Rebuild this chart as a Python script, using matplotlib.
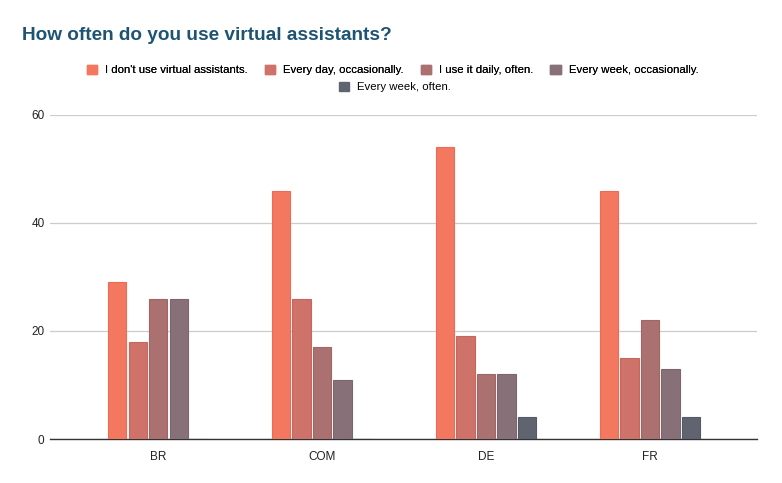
import matplotlib
matplotlib.use("Agg")
import matplotlib.pyplot as plt
import numpy as np
from matplotlib.patches import Patch

plt.rcParams['font.family'] = ['Liberation Sans', 'DejaVu Sans']

categories = ["BR", "COM", "DE", "FR"]
series_names = ["I don't use virtual assistants.", "Every day, occasionally.",
                "I use it daily, often.", "Every week, occasionally.", "Every week, often."]
s_dont_use = [29, 46, 54, 46]
s_day_occ = [18, 26, 19, 15]
s_daily_often = [26, 17, 12, 22]
s_week_occ = [26, 11, 12, 13]
s_week_often = [0, 0, 4, 4]
series = [s_dont_use, s_day_occ, s_daily_often, s_week_occ, s_week_often]
colors = ["#F4775F", "#CE726A", "#AB7070", "#877078", "#5F6470"]
edges = ["#EC6B55", "#C4675F", "#A06565", "#7C666E", "#555A65"]

fig = plt.figure(figsize=(7.82, 4.83), dpi=100)
ax = fig.add_axes([50/782, 1-439/483, (757-50)/782, (439-115)/483])

x = np.arange(len(categories))
step = 0.125
width = 0.112
for i, (vals, c, e) in enumerate(zip(series, colors, edges)):
    ax.bar(x + (i-2)*step, vals, width=width, color=c, edgecolor=e, linewidth=0.8, zorder=3)

ax.set_xlim(-0.66, 3.652)
ax.set_ylim(0, 60)
ax.set_yticks([0, 20, 40, 60])
ax.set_xticks(x)
ax.set_xticklabels(categories)
ax.tick_params(axis='both', length=0, labelsize=8.5, colors='#222222')
ax.tick_params(axis='x', pad=9)
ax.tick_params(axis='y', pad=4)
ax.grid(axis='y', color='#CCCCCC', linewidth=0.9, zorder=0)
for s in ['top', 'right', 'left']:
    ax.spines[s].set_visible(False)
ax.spines['bottom'].set_color('#333333')
ax.spines['bottom'].set_linewidth(1.0)

fig.text(22/782, 1-36/483, "How often do you use virtual assistants?", fontsize=13.7,
         fontweight='bold', color='#1D5474', va='center', ha='left')

handles = [Patch(facecolor=c, edgecolor=c) for c in colors]
leg1 = fig.legend(handles[:4], series_names[:4], loc='center', ncol=4,
                  bbox_to_anchor=(0.502, 1-70/483), frameon=False, fontsize=8.2,
                  handlelength=0.9, handleheight=0.9, columnspacing=1.5, handletextpad=0.7)
leg2 = fig.legend(handles[4:], series_names[4:], loc='center', ncol=1,
                  bbox_to_anchor=(0.505, 1-87/483), frameon=False, fontsize=8.2,
                  handlelength=0.9, handleheight=0.9, handletextpad=0.7)
fig.add_artist(leg1)

fig.savefig("out.png", dpi=100)
